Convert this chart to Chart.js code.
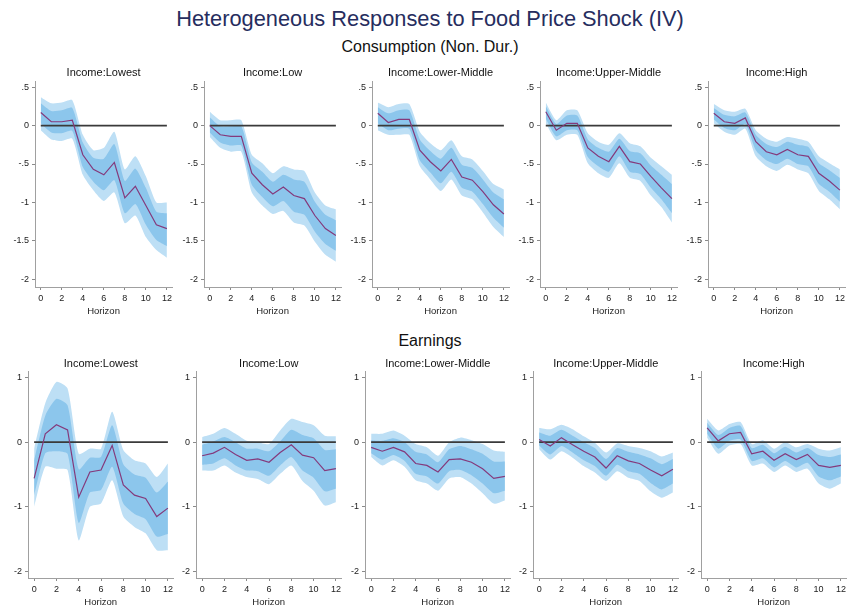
<!DOCTYPE html>
<html>
<head>
<meta charset="utf-8">
<script src="https://cdn.jsdelivr.net/npm/chart.js@4.4.1/dist/chart.umd.min.js"></script>
<style>
    body { margin: 0; width: 852px; height: 612px; background: #fff; position: relative; overflow: hidden;
           font-family: "Liberation Sans", Arial, sans-serif; }
    .txt { position: absolute; left: 4px; width: 852px; text-align: center; white-space: nowrap; }
    #main-title { top: 6px; font-size: 21.8px; line-height: 26px; color: #262d5e; }
    .sub-title { font-size: 16px; line-height: 20px; color: #111; }
    canvas { position: absolute; }
</style>
</head>
<body>
<div id="main-title" class="txt">Heterogeneous Responses to Food Price Shock (IV)</div>
<div class="txt sub-title" style="top:37px">Consumption (Non. Dur.)</div>
<div class="txt sub-title" style="top:331px">Earnings</div>

<script>
// horizons and tick marks
const horizon = [0, 1, 2, 3, 4, 5, 6, 7, 8, 9, 10, 11, 12];
const xTicks = [0, 2, 4, 6, 8, 10, 12];
const incomeGroups = ['Income:Lowest', 'Income:Low', 'Income:Lower-Middle', 'Income:Upper-Middle', 'Income:High'];

const consTicks  = [0.5, 0, -0.5, -1, -1.5, -2];
const consLabels = ['.5', '0', '-.5', '-1', '-1.5', '-2'];
const earnTicks  = [1, 0, -1, -2];
const earnLabels = ['1', '0', '-1', '-2'];

// Consumption (non-durables): one row per income group
const consEst = [
    [0.17, 0.05, 0.05, 0.07, -0.38, -0.57, -0.64, -0.48, -0.94, -0.79, -1.04, -1.29, -1.34],
    [0.00, -0.12, -0.14, -0.14, -0.62, -0.77, -0.89, -0.80, -0.91, -0.95, -1.17, -1.34, -1.43],
    [0.16, 0.04, 0.08, 0.08, -0.32, -0.47, -0.59, -0.44, -0.67, -0.71, -0.86, -1.03, -1.15],
    [0.18, -0.06, 0.03, 0.03, -0.29, -0.40, -0.47, -0.27, -0.47, -0.50, -0.66, -0.81, -0.95],
    [0.16, 0.05, 0.03, 0.10, -0.21, -0.34, -0.38, -0.31, -0.38, -0.40, -0.62, -0.72, -0.84]
];
const consHi90 = [
    [0.37, 0.29, 0.30, 0.33, -0.12, -0.32, -0.29, -0.08, -0.57, -0.40, -0.66, -1.00, -1.00],
    [0.18, 0.07, 0.07, 0.07, -0.38, -0.49, -0.62, -0.53, -0.57, -0.59, -0.87, -1.04, -1.09],
    [0.30, 0.24, 0.28, 0.28, -0.08, -0.23, -0.32, -0.19, -0.40, -0.44, -0.59, -0.76, -0.83],
    [0.30, 0.07, 0.20, 0.20, -0.10, -0.21, -0.25, -0.10, -0.23, -0.27, -0.42, -0.53, -0.64],
    [0.28, 0.20, 0.18, 0.22, -0.06, -0.17, -0.21, -0.15, -0.17, -0.21, -0.40, -0.49, -0.57]
];
const consLo90 = [
    [-0.06, -0.18, -0.20, -0.17, -0.64, -0.84, -0.98, -0.87, -1.27, -1.17, -1.45, -1.62, -1.72],
    [-0.15, -0.29, -0.34, -0.34, -0.87, -1.04, -1.15, -1.11, -1.26, -1.30, -1.51, -1.68, -1.77],
    [-0.06, -0.12, -0.12, -0.12, -0.53, -0.70, -0.85, -0.70, -0.91, -0.96, -1.13, -1.32, -1.45],
    [0.03, -0.19, -0.12, -0.12, -0.49, -0.62, -0.68, -0.49, -0.68, -0.72, -0.91, -1.06, -1.26],
    [0.03, -0.08, -0.12, -0.04, -0.40, -0.53, -0.59, -0.51, -0.57, -0.62, -0.85, -0.96, -1.09]
];
const consHi68 = [
    [0.29, 0.19, 0.20, 0.23, -0.22, -0.42, -0.43, -0.24, -0.72, -0.56, -0.81, -1.12, -1.14],
    [0.11, -0.01, -0.01, -0.01, -0.48, -0.60, -0.73, -0.64, -0.70, -0.73, -0.99, -1.16, -1.23],
    [0.24, 0.16, 0.20, 0.20, -0.18, -0.33, -0.43, -0.29, -0.51, -0.55, -0.70, -0.87, -0.96],
    [0.25, 0.02, 0.13, 0.13, -0.18, -0.29, -0.34, -0.17, -0.33, -0.36, -0.52, -0.64, -0.76],
    [0.23, 0.14, 0.12, 0.17, -0.12, -0.24, -0.28, -0.21, -0.25, -0.28, -0.49, -0.58, -0.68]
];
const consLo68 = [
    [0.03, -0.09, -0.10, -0.07, -0.54, -0.73, -0.84, -0.71, -1.14, -1.02, -1.29, -1.49, -1.57],
    [-0.09, -0.22, -0.26, -0.26, -0.77, -0.93, -1.05, -0.98, -1.12, -1.16, -1.38, -1.54, -1.63],
    [0.03, -0.06, -0.04, -0.04, -0.45, -0.61, -0.75, -0.60, -0.81, -0.86, -1.02, -1.20, -1.33],
    [0.09, -0.14, -0.06, -0.06, -0.41, -0.53, -0.60, -0.40, -0.60, -0.63, -0.81, -0.96, -1.14],
    [0.08, -0.03, -0.06, 0.02, -0.32, -0.45, -0.50, -0.43, -0.50, -0.53, -0.76, -0.86, -0.99]
];

// Earnings: one row per income group
const earnEst = [
    [-0.56, 0.13, 0.27, 0.19, -0.85, -0.46, -0.43, -0.05, -0.66, -0.82, -0.87, -1.15, -1.02],
    [-0.21, -0.17, -0.08, -0.19, -0.28, -0.26, -0.31, -0.16, -0.04, -0.20, -0.24, -0.44, -0.41],
    [-0.08, -0.14, -0.08, -0.15, -0.33, -0.36, -0.46, -0.27, -0.26, -0.31, -0.41, -0.56, -0.53],
    [0.04, -0.06, 0.07, -0.04, -0.14, -0.23, -0.40, -0.21, -0.29, -0.33, -0.43, -0.52, -0.42],
    [0.22, 0.02, 0.13, 0.15, -0.18, -0.14, -0.28, -0.18, -0.27, -0.19, -0.36, -0.39, -0.36]
];
const earnHi90 = [
    [-0.10, 0.60, 0.93, 0.83, -0.18, -0.10, -0.10, 0.47, -0.12, -0.28, -0.33, -0.54, -0.33],
    [0.08, 0.13, 0.22, 0.13, 0.02, 0.00, -0.03, 0.18, 0.36, 0.31, 0.26, 0.10, 0.09],
    [0.13, 0.13, 0.18, 0.10, -0.03, -0.08, -0.21, 0.00, 0.07, 0.03, -0.03, -0.13, -0.15],
    [0.22, 0.20, 0.27, 0.20, 0.09, -0.01, -0.16, -0.02, -0.06, -0.09, -0.14, -0.22, -0.16],
    [0.36, 0.18, 0.28, 0.31, -0.03, 0.03, -0.10, 0.00, -0.08, -0.03, -0.10, -0.13, -0.08]
];
const earnLo90 = [
    [-1.00, -0.38, -0.41, -0.43, -1.52, -1.00, -0.95, -0.59, -1.15, -1.31, -1.41, -1.67, -1.67],
    [-0.44, -0.44, -0.36, -0.47, -0.54, -0.57, -0.65, -0.49, -0.36, -0.60, -0.75, -0.98, -0.93],
    [-0.23, -0.36, -0.28, -0.38, -0.59, -0.64, -0.75, -0.56, -0.54, -0.64, -0.79, -0.95, -0.90],
    [-0.11, -0.27, -0.14, -0.24, -0.37, -0.47, -0.60, -0.45, -0.55, -0.60, -0.76, -0.86, -0.78],
    [0.07, -0.18, -0.05, -0.03, -0.36, -0.33, -0.46, -0.36, -0.46, -0.41, -0.64, -0.72, -0.64]
];
const earnHi68 = [
    [-0.28, 0.41, 0.67, 0.57, -0.42, -0.24, -0.23, 0.26, -0.34, -0.50, -0.55, -0.78, -0.61],
    [-0.04, 0.01, 0.08, 0.00, -0.10, -0.10, -0.14, 0.01, 0.19, 0.11, 0.06, -0.12, -0.11],
    [0.03, 0.02, 0.06, 0.00, -0.15, -0.19, -0.31, -0.11, -0.06, -0.11, -0.18, -0.30, -0.30],
    [0.15, 0.10, 0.19, 0.10, 0.00, -0.09, -0.26, -0.09, -0.15, -0.19, -0.25, -0.34, -0.26],
    [0.30, 0.11, 0.22, 0.25, -0.09, -0.04, -0.17, -0.07, -0.16, -0.09, -0.20, -0.23, -0.19]
];
const earnLo68 = [
    [-0.82, -0.17, -0.14, -0.18, -1.25, -0.78, -0.74, -0.38, -0.95, -1.11, -1.19, -1.46, -1.42],
    [-0.35, -0.33, -0.25, -0.36, -0.44, -0.45, -0.52, -0.36, -0.23, -0.44, -0.55, -0.76, -0.72],
    [-0.17, -0.27, -0.20, -0.29, -0.49, -0.53, -0.64, -0.45, -0.43, -0.51, -0.64, -0.79, -0.75],
    [-0.05, -0.19, -0.06, -0.16, -0.28, -0.37, -0.52, -0.35, -0.45, -0.49, -0.63, -0.73, -0.64],
    [0.13, -0.10, 0.02, 0.04, -0.29, -0.25, -0.39, -0.29, -0.39, -0.32, -0.53, -0.59, -0.53]
];

const FONT = '"Liberation Sans", Arial, sans-serif';
const OUTER_BAND = '#bddff5';
const INNER_BAND = '#8cc6ec';
const EST_LINE = '#843a7c';

// panel rows: x pixel of horizon 0, px per horizon, plot top/bottom, title centre
const rows = [
    { x0: [41, 210, 378, 546, 714], ppu: 10.72, top: 81, bottom: 287, titleY: 72, yMin: -2.1, yMax: 0.58,
      est: consEst, hi90: consHi90, lo90: consLo90, hi68: consHi68, lo68: consLo68,
      yTicks: consTicks, yLabels: consLabels },
    { x0: [34, 202, 371, 539, 707], ppu: 11.33, top: 371, bottom: 578, titleY: 363, yMin: -2.1, yMax: 1.1,
      est: earnEst, hi90: earnHi90, lo90: earnLo90, hi68: earnHi68, lo68: earnLo68,
      yTicks: earnTicks, yLabels: earnLabels }
];

const X_MIN = -0.55, X_MAX = 12.5;
const Y_AXIS_W = 28, X_AXIS_H = 32, TITLE_LH = 13;

function toPts(arr) {
    return arr.map((v, i) => ({ x: horizon[i], y: v }));
}

function bandSet(arr, fill, color) {
    return { data: toPts(arr), borderWidth: 0, pointRadius: 0, fill: fill,
             backgroundColor: color, tension: 0.2 };
}

function makePanel(row, g) {
    const areaLeft = Math.round(row.x0[g] + X_MIN * row.ppu);
    const areaRight = Math.round(row.x0[g] + X_MAX * row.ppu);
    const left = areaLeft - Y_AXIS_W;
    const top = Math.round(row.titleY - TITLE_LH / 2);
    const width = areaRight - left;
    const height = row.bottom + X_AXIS_H - top;
    const titleGap = row.top - top - TITLE_LH;

    const canvas = document.createElement('canvas');
    canvas.width = width;
    canvas.height = height;
    canvas.style.left = left + 'px';
    canvas.style.top = top + 'px';
    canvas.style.width = width + 'px';
    canvas.style.height = height + 'px';
    document.body.appendChild(canvas);

    new Chart(canvas, {
        type: 'line',
        data: {
            datasets: [
                { data: toPts(row.est[g]), borderColor: EST_LINE, borderWidth: 1.2, pointRadius: 0, fill: false, tension: 0 },
                { data: toPts(horizon.map(() => 0)), borderColor: '#3a3a3a', borderWidth: 1.8, pointRadius: 0, fill: false },
                bandSet(row.hi68[g], '+1', INNER_BAND),
                bandSet(row.lo68[g], false, INNER_BAND),
                bandSet(row.hi90[g], '+1', OUTER_BAND),
                bandSet(row.lo90[g], false, OUTER_BAND)
            ]
        },
        options: {
            responsive: false,
            animation: false,
            devicePixelRatio: 1,
            layout: { padding: 0 },
            plugins: {
                legend: { display: false },
                tooltip: { enabled: false },
                title: {
                    display: true, text: incomeGroups[g], fullSize: false, color: '#111',
                    font: { family: FONT, size: 11, weight: 'normal', lineHeight: TITLE_LH / 11 },
                    padding: { top: 0, bottom: titleGap }
                }
            },
            scales: {
                x: {
                    type: 'linear', min: X_MIN, max: X_MAX,
                    afterBuildTicks: s => { s.ticks = xTicks.map(v => ({ value: v })); },
                    afterFit: s => { s.height = X_AXIS_H; },
                    grid: { drawOnChartArea: false, tickLength: 3, color: '#8a8a8a' },
                    border: { color: '#a0a0a0', width: 1 },
                    ticks: { autoSkip: false, maxRotation: 0, padding: 3, color: '#222',
                             font: { family: FONT, size: 9 }, callback: v => String(v) },
                    title: { display: true, text: 'Horizon', color: '#222',
                             font: { family: FONT, size: 9.5 }, padding: { top: 0, bottom: 2 } }
                },
                y: {
                    min: row.yMin, max: row.yMax,
                    afterBuildTicks: s => { s.ticks = row.yTicks.map(v => ({ value: v })); },
                    afterFit: s => { s.width = Y_AXIS_W; },
                    grid: { drawOnChartArea: false, tickLength: 3, color: '#8a8a8a' },
                    border: { color: '#a0a0a0', width: 1 },
                    ticks: { autoSkip: false, padding: 3, color: '#222',
                             font: { family: FONT, size: 9 },
                             callback: v => row.yLabels[row.yTicks.indexOf(v)] }
                }
            }
        }
    });
}

rows.forEach(row => {
    incomeGroups.forEach((name, g) => makePanel(row, g));
});
</script>
</body>
</html>
